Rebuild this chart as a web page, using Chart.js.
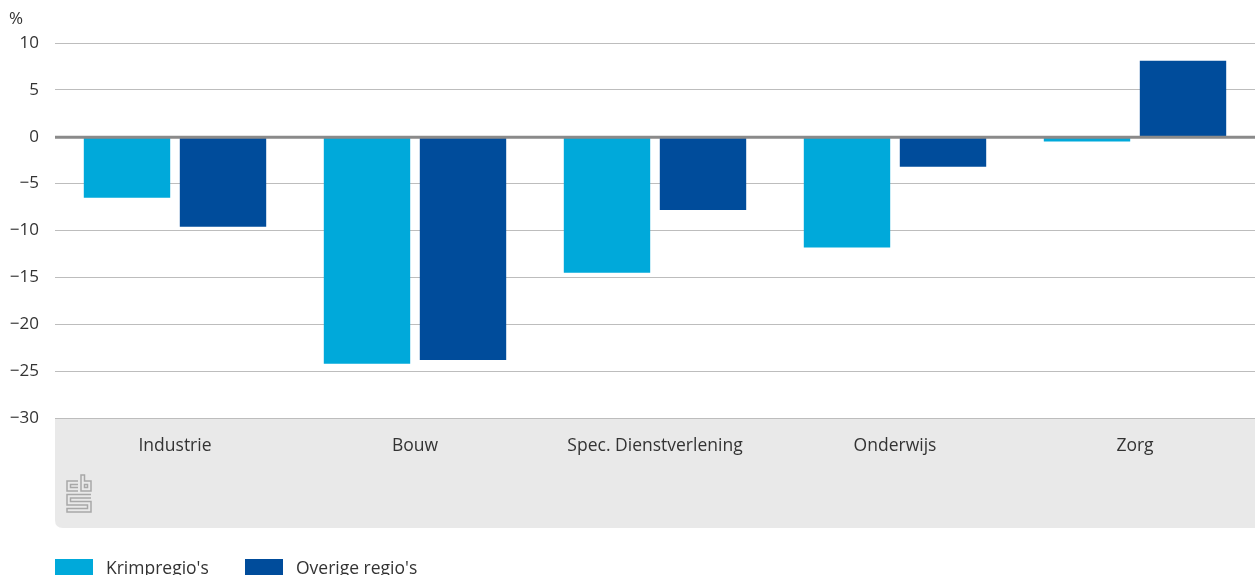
<!DOCTYPE html>
<html>
<head>
<meta charset="utf-8">
<script src="https://cdn.jsdelivr.net/npm/chart.js@4.4.1/dist/chart.umd.min.js"></script>
<style>
  body { margin: 0; background: #fff; }
  #wrap { width: 1255px; height: 575px; position: relative; }
</style>
</head>
<body>
<div id="wrap"><canvas id="chart"></canvas></div>
<script>
// Data (% change)
const categories = ["Industrie", "Bouw", "Spec. Dienstverlening", "Onderwijs", "Zorg"];
const krimp = [-6.5, -24.2, -14.5, -11.8, -0.5];
const overig = [-9.6, -23.8, -7.8, -3.2, 8.1];
const seriesNames = ["Krimpregio's", "Overige regio's"];
const colors = ["#00a9da", "#004c9b"];
const fontFam = "'Open Sans', 'Noto Sans', sans-serif";

// panel, zero line, unit label, logo and legend
const extras = {
  id: "extras",
  beforeDraw(chart) {
    const ctx = chart.ctx, a = chart.chartArea;
    ctx.save();
    ctx.fillStyle = "#e9e9e9";
    const x0 = a.left, y0 = a.bottom, x1 = a.right, y1 = 528, r = 8;
    ctx.beginPath();
    ctx.moveTo(x0, y0);
    ctx.lineTo(x1, y0);
    ctx.lineTo(x1, y1);
    ctx.lineTo(x0 + r, y1);
    ctx.quadraticCurveTo(x0, y1, x0, y1 - r);
    ctx.closePath();
    ctx.fill();

    // cbs logo (rough)
    ctx.strokeStyle = "#a8a8a8";
    ctx.lineWidth = 1.5;
    ctx.beginPath();
    // c
    ctx.moveTo(78, 481); ctx.lineTo(67, 481); ctx.lineTo(67, 491); ctx.lineTo(78, 491);
    ctx.moveTo(78, 484.5); ctx.lineTo(70.5, 484.5); ctx.lineTo(70.5, 487.5); ctx.lineTo(78, 487.5);
    // b
    ctx.moveTo(81, 475); ctx.lineTo(81, 491); ctx.lineTo(91, 491); ctx.lineTo(91, 481); ctx.lineTo(84.5, 481); ctx.lineTo(84.5, 475); ctx.closePath();
    ctx.moveTo(84.5, 484.5); ctx.lineTo(87.5, 484.5); ctx.lineTo(87.5, 487.5); ctx.lineTo(84.5, 487.5); ctx.closePath();
    // S
    ctx.moveTo(91, 494.5); ctx.lineTo(67, 494.5); ctx.lineTo(67, 505); ctx.lineTo(87.5, 505); ctx.lineTo(87.5, 508.5); ctx.lineTo(67, 508.5); ctx.lineTo(67, 512); ctx.lineTo(91, 512); ctx.lineTo(91, 501.5); ctx.lineTo(70.5, 501.5); ctx.lineTo(70.5, 498); ctx.lineTo(91, 498);
    ctx.stroke();

    // unit
    ctx.fillStyle = "#333";
    ctx.font = "17px " + fontFam;
    ctx.textAlign = "left";
    ctx.textBaseline = "middle";
    ctx.fillText("%", 9, 19);

    // legend
    ctx.font = "17.5px " + fontFam;
    chart.data.datasets.forEach((ds, i) => {
      const bx = [55, 245][i];
      ctx.fillStyle = ds.backgroundColor;
      ctx.fillRect(bx, 559, 38, 16);
      ctx.fillStyle = "#333";
      ctx.textBaseline = "alphabetic";
      ctx.fillText(ds.label, bx + 51, 574);
    });
    ctx.restore();
  },
  afterDatasetsDraw(chart) {
    const ctx = chart.ctx, a = chart.chartArea;
    const y = chart.scales.y.getPixelForValue(0);
    ctx.save();
    ctx.strokeStyle = "#8a8a8a";
    ctx.lineWidth = 3;
    ctx.beginPath();
    ctx.moveTo(a.left, y + 0.5);
    ctx.lineTo(a.right, y + 0.5);
    ctx.stroke();
    ctx.restore();
  }
};

new Chart(document.getElementById("chart"), {
  type: "bar",
  data: {
    labels: categories,
    datasets: [
      { label: seriesNames[0], data: krimp, backgroundColor: colors[0] },
      { label: seriesNames[1], data: overig, backgroundColor: colors[1] }
    ]
  },
  options: {
    responsive: true,
    maintainAspectRatio: false,
    animation: false,
    layout: { padding: { top: 43, right: 0, left: 0, bottom: 0 } },
    datasets: { bar: { categoryPercentage: 0.8, barPercentage: 0.9 } },
    plugins: { legend: { display: false }, tooltip: { enabled: false } },
    scales: {
      x: {
        grid: { display: false, drawTicks: false },
        border: { display: false },
        ticks: { color: "#333", font: { family: fontFam, size: 17.5 }, padding: 18, maxRotation: 0 },
        afterFit(s) { s.height = 157; }
      },
      y: {
        min: -30, max: 10,
        grid: { color: "#bdbdbd", lineWidth: 1, drawTicks: false },
        border: { display: false },
        ticks: {
          stepSize: 5,
          padding: 16,
          color: "#333",
          font: { family: fontFam, size: 17 },
          callback: v => String(v).replace("-", "\u2212")
        },
        afterFit(s) { s.width = 55; }
      }
    }
  },
  plugins: [extras]
});
</script>
</body>
</html>
